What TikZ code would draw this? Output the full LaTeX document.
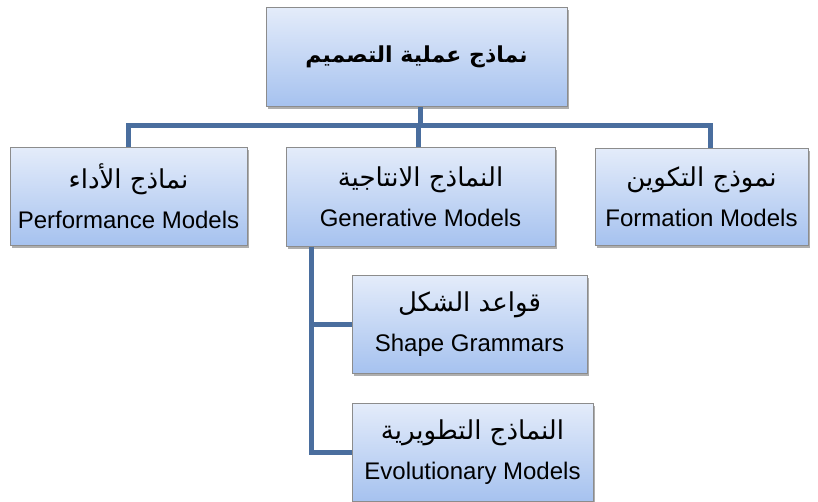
\documentclass[tikz,border=0pt]{standalone}
\usepackage{fontspec}
\setmainfont{Liberation Sans}
\newfontfamily\arabicfont[Script=Arabic]{DejaVu Sans}
\TeXXeTstate=1
\usetikzlibrary{shadows,calc}
\definecolor{boxtop}{HTML}{E4ECFA}
\definecolor{boxbot}{HTML}{A6C2EF}
\definecolor{linkblue}{HTML}{4A6E9E}
\newcommand\artext[1]{{\arabicfont\fontsize{26}{30}\selectfont\beginR #1\endR}}
\begin{document}
\begin{tikzpicture}[x=1pt,y=-1pt,
  box/.style={draw=black!45, line width=1pt,
    top color=boxtop, bottom color=boxbot,
    drop shadow={shadow xshift=2pt, shadow yshift=-3pt, opacity=0.45, fill=black!70},
    align=center, inner sep=0pt,
    font=\fontsize{24}{40}\selectfont},
  link/.style={draw=linkblue, line width=5pt}]
  \fill[white] (0,0) rectangle (818,501);
  \useasboundingbox (0,0) rectangle (818,501);

  % boxes
  \node[box, minimum width=301pt, minimum height=99pt] (top) at (416.5,56.5)
        {\raisebox{-2pt}{\arabicfont\fontsize{22}{28}\selectfont\bfseries\beginR نماذج عملية التصميم\endR}};
  \node[box, minimum width=237pt, minimum height=98pt] (perf) at (128.5,196)
        {\artext{نماذج الأداء}\\Performance Models};
  \node[box, minimum width=269pt, minimum height=99pt] (gen) at (420.5,196.5)
        {\artext{النماذج الانتاجية}\\Generative Models};
  \node[box, minimum width=213pt, minimum height=97pt] (form) at (701.5,196.5)
        {\artext{نموذج التكوين}\\Formation Models};
  \node[box, minimum width=235pt, minimum height=98pt] (shape) at (469.5,324)
        {\artext{قواعد الشكل}\\Shape Grammars};
  \node[box, minimum width=241pt, minimum height=98pt] (evo) at (472.5,452)
        {\artext{النماذج التطويرية}\\Evolutionary Models};

  % connectors
  \coordinate (bar) at (420,125);
  \coordinate (trunk) at ($(gen.south west)+(26,0)$);
  \coordinate (topdrop) at ($(top.south)+(4,0)$);
  \coordinate (formdrop) at ($(form.north)+(9,0)$);
  \coordinate (gendrop) at ($(gen.north)+(-2,0)$);
  \draw[link] (topdrop) -- (topdrop |- bar);
  \draw[link] (perf.north) |- (bar) -| (formdrop);
  \draw[link] (gendrop) -- (gendrop |- bar);
  \draw[link] (trunk) |- (shape.west);
  \draw[link] (trunk) |- (evo.west);
\end{tikzpicture}
\end{document}
